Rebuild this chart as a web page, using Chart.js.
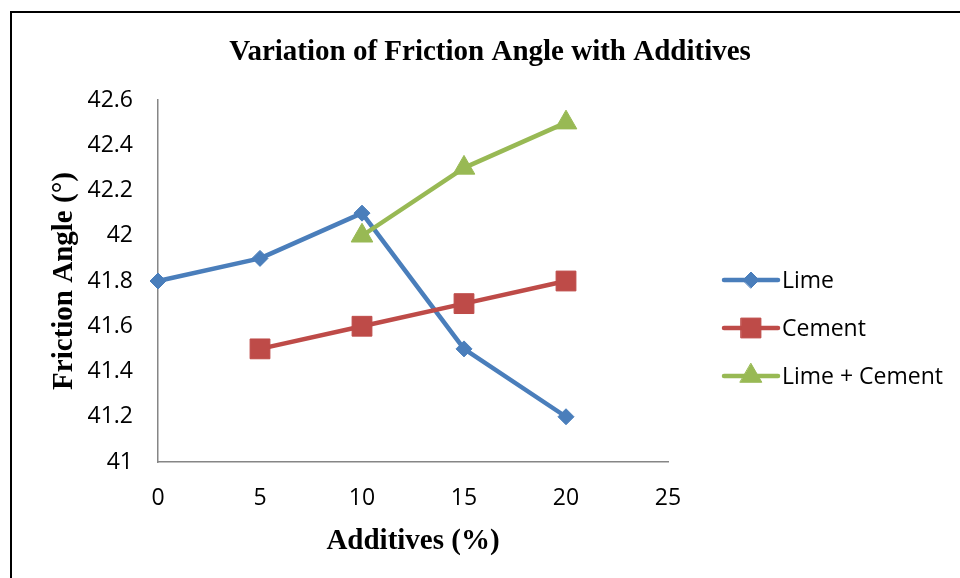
<!DOCTYPE html>
<html>
<head>
<meta charset="utf-8">
<title>Variation of Friction Angle with Additives</title>
<script src="https://cdn.jsdelivr.net/npm/chart.js@4.4.1/dist/chart.umd.min.js"></script>
<style>
    html, body { margin: 0; padding: 0; background: #fff; overflow: hidden; }
    #wrap { position: relative; width: 960px; height: 578px; }
    #frame { position: absolute; left: 10px; top: 11px; width: 1000px; height: 640px; border: 2px solid #000; }
    #chart { position: absolute; left: 0; top: 0; }
</style>
</head>
<body>
<div id="wrap">
    <div id="frame"></div>
    <canvas id="chart" width="960" height="578"></canvas>
</div>
<script>
    // Valeurs
    var additives = [0, 5, 10, 15, 20];
    var lime = [41.8, 41.9, 42.1, 41.5, 41.2];
    var cement = [null, 41.5, 41.6, 41.7, 41.8];
    var limeCement = [null, null, 42.0, 42.3, 42.5];

    var xTicks = [0, 5, 10, 15, 20, 25];
    var yTicks = [41, 41.2, 41.4, 41.6, 41.8, 42, 42.2, 42.4, 42.6];

    var seriesNames = ['Lime', 'Cement', 'Lime + Cement'];
    var seriesColors = ['#4A7EBB', '#BE4B48', '#98B954'];

    var serifFont = '"Liberation Serif", "Times New Roman", serif';
    var sansFont = '"Open Sans", "Liberation Sans", sans-serif';

    function toPoints(values) {
        return additives.map(function (x, i) {
            return { x: x, y: values[i] };
        }).filter(function (p) {
            return p.y !== null;
        });
    }

    function makeDataset(idx, values, style, radius) {
        return {
            label: seriesNames[idx],
            data: toPoints(values),
            borderColor: seriesColors[idx],
            backgroundColor: seriesColors[idx],
            pointBackgroundColor: seriesColors[idx],
            pointBorderColor: seriesColors[idx],
            pointBorderWidth: 1,
            pointStyle: style,
            pointRadius: radius,
            pointHoverRadius: radius,
            borderWidth: 4.5,
            borderJoinStyle: 'round',
            borderCapStyle: 'round',
            tension: 0,
            clip: false,
            order: 3 - idx
        };
    }

    // Légende dessinée à la main : trait + marqueur comme dans Excel
    var lineLegend = {
        id: 'lineLegend',
        afterDraw: function (chart) {
            var ctx = chart.ctx;
            var x0 = 724, x1 = 778, textX = 782;
            var firstY = 280, step = 48;
            chart.data.datasets.forEach(function (ds, i) {
                var y = firstY + i * step;
                ctx.save();
                ctx.strokeStyle = ds.borderColor;
                ctx.lineWidth = ds.borderWidth;
                ctx.lineCap = 'round';
                ctx.beginPath();
                ctx.moveTo(x0, y);
                ctx.lineTo(x1, y);
                ctx.stroke();
                ctx.fillStyle = ds.pointBackgroundColor;
                ctx.strokeStyle = ds.pointBorderColor;
                ctx.lineWidth = 1;
                Chart.helpers.drawPoint(ctx, {
                    pointStyle: ds.pointStyle,
                    rotation: 0,
                    radius: ds.pointRadius,
                    borderWidth: 1
                }, (x0 + x1) / 2, y);
                ctx.fillStyle = '#000';
                ctx.font = '23px ' + sansFont;
                ctx.textAlign = 'left';
                ctx.textBaseline = 'middle';
                ctx.fillText(ds.label, textX, y + 1);
                ctx.restore();
            });
        }
    };

    new Chart(document.getElementById('chart'), {
        type: 'line',
        data: {
            datasets: [
                makeDataset(0, lime, 'rectRot', 8),
                makeDataset(1, cement, 'rect', 14),
                makeDataset(2, limeCement, 'triangle', 12.5)
            ]
        },
        options: {
            responsive: false,
            animation: false,
            devicePixelRatio: 1,
            layout: { padding: { left: 20, right: 0, top: 0, bottom: 0 } },
            plugins: {
                legend: { display: false },
                tooltip: { enabled: false },
                title: {
                    display: true,
                    text: 'Variation of Friction Angle with Additives',
                    color: '#000',
                    font: { family: serifFont, size: 29, weight: 'bold' },
                    padding: { top: 35.6, bottom: 29.6 }
                }
            },
            scales: {
                x: {
                    type: 'linear',
                    position: 'bottom',
                    min: 0,
                    max: 25,
                    afterBuildTicks: function (scale) {
                        scale.ticks = xTicks.map(function (v) { return { value: v }; });
                    },
                    afterFit: function (scale) { scale.height = 116; },
                    grid: { display: false, drawTicks: false },
                    border: { display: true, color: '#868686', width: 1.5 },
                    ticks: {
                        color: '#000',
                        padding: 23,
                        maxRotation: 0,
                        font: { family: sansFont, size: 23 },
                        callback: function (v) { return String(v); }
                    },
                    title: {
                        display: true,
                        text: 'Additives (%)',
                        color: '#000',
                        font: { family: serifFont, size: 29, weight: 'bold' },
                        padding: { top: 0, bottom: 18.6 }
                    }
                },
                y: {
                    type: 'linear',
                    position: 'left',
                    min: 41,
                    max: 42.6,
                    afterBuildTicks: function (scale) {
                        scale.ticks = yTicks.map(function (v) { return { value: v }; });
                    },
                    afterFit: function (scale) { scale.width = 138; },
                    grid: { display: false, drawTicks: false },
                    border: { display: true, color: '#868686', width: 1.5 },
                    ticks: {
                        color: '#000',
                        padding: 25,
                        font: { family: sansFont, size: 23 },
                        callback: function (v) { return String(v); }
                    },
                    title: {
                        display: true,
                        text: 'Friction Angle (°)',
                        color: '#000',
                        font: { family: serifFont, size: 29, weight: 'bold' },
                        padding: { top: 27, bottom: 0 }
                    }
                },
                // axe vide : réserve la place de la légende à droite
                legendSpace: {
                    type: 'linear',
                    position: 'right',
                    display: true,
                    afterFit: function (scale) { scale.width = 292; },
                    grid: { display: false, drawTicks: false },
                    border: { display: false },
                    ticks: { display: false }
                }
            }
        },
        plugins: [lineLegend]
    });
</script>
</body>
</html>
